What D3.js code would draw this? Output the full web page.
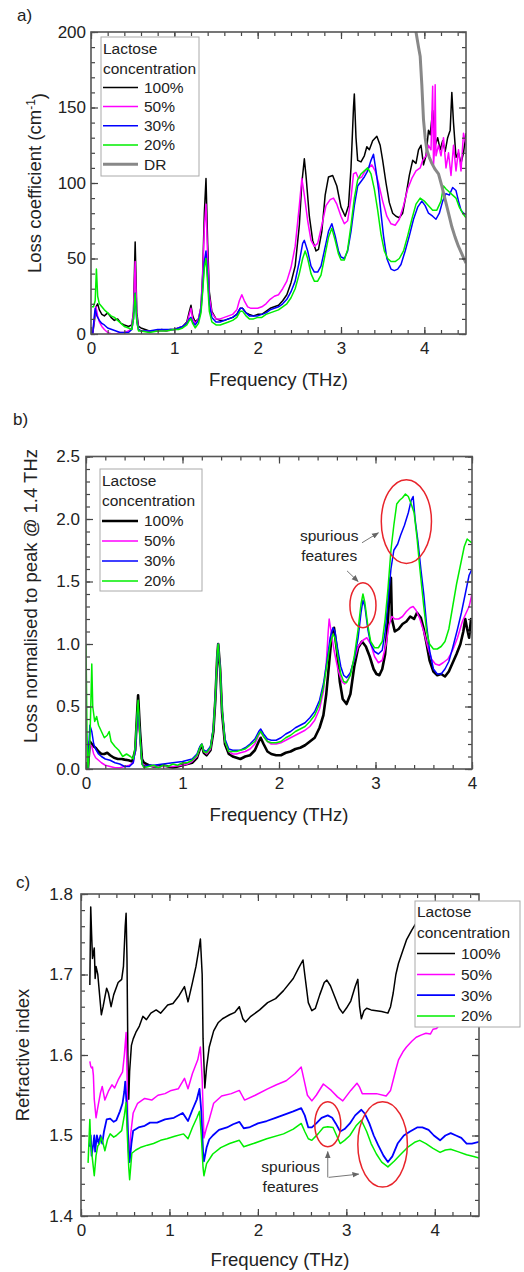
<!DOCTYPE html>
<html>
<head>
<meta charset="utf-8">
<script src="https://cdn.jsdelivr.net/npm/d3@7"></script>
<style>
body { margin: 0; background: #fff; }
svg text { font-family: Arial, "Liberation Sans", sans-serif; fill: #222; }
</style>
</head>
<body>
<div id="chart"></div>
<script>

// ---- data: [frequency THz, value] ----

const concLabels = ['100%', '50%', '30%', '20%']

// a) loss coefficient (cm-1)
const lossA100 = [[0.02,0],[0.04,8],[0.06,18],[0.08,20],[0.1,16],[0.13,13],[0.16,12],[0.2,14],[0.24,11],[0.28,9],[0.32,10],[0.36,7],[0.4,6],[0.45,5],[0.49,6],[0.51,15],[0.53,61],[0.55,14],[0.57,5],[0.6,4],[0.65,3],[0.7,2],[0.75,2],[0.8,2],[0.85,3],[0.9,2],[0.95,3],[1.0,3],[1.05,4],[1.1,5],[1.15,8],[1.18,15],[1.2,19],[1.22,12],[1.25,8],[1.29,10],[1.32,18],[1.34,40],[1.36,80],[1.38,103],[1.4,60],[1.42,28],[1.45,15],[1.5,10],[1.55,9],[1.6,9],[1.65,10],[1.7,11],[1.75,13],[1.79,17],[1.82,17],[1.86,14],[1.9,13],[1.95,12],[2.0,13],[2.05,13],[2.1,15],[2.15,17],[2.2,18],[2.25,19],[2.3,22],[2.35,26],[2.4,34],[2.45,45],[2.5,72],[2.53,100],[2.56,116],[2.58,105],[2.62,78],[2.66,62],[2.7,55],[2.73,56],[2.77,68],[2.81,92],[2.85,104],[2.9,105],[2.95,98],[3.0,84],[3.05,78],[3.09,85],[3.12,110],[3.15,150],[3.16,159],[3.18,130],[3.2,115],[3.24,114],[3.28,118],[3.31,124],[3.34,122],[3.38,128],[3.43,131],[3.47,125],[3.5,115],[3.54,100],[3.58,87],[3.62,80],[3.66,78],[3.7,77],[3.74,80],[3.78,92],[3.82,105],[3.86,115],[3.9,113],[3.93,122],[3.96,125],[3.99,112],[4.02,118],[4.05,135],[4.07,132],[4.1,148],[4.13,125],[4.16,130],[4.19,122],[4.22,128],[4.25,121],[4.28,130],[4.31,135],[4.33,160],[4.35,140],[4.38,117],[4.41,120],[4.44,113],[4.47,120],[4.5,133]]
const lossA50 = [[0.02,0],[0.04,10],[0.06,18],[0.08,12],[0.1,8],[0.13,5],[0.16,3],[0.2,1],[0.25,0],[0.3,0],[0.35,1],[0.4,1],[0.45,2],[0.49,4],[0.51,15],[0.53,48],[0.55,12],[0.57,3],[0.6,2],[0.7,2],[0.8,2],[0.9,2],[1.0,3],[1.05,4],[1.1,5],[1.15,7],[1.18,13],[1.2,17],[1.22,10],[1.25,7],[1.29,10],[1.32,18],[1.34,38],[1.36,70],[1.38,86],[1.4,50],[1.42,25],[1.45,14],[1.5,10],[1.55,10],[1.6,11],[1.65,12],[1.7,13],[1.75,16],[1.78,22],[1.81,26],[1.84,22],[1.88,18],[1.92,17],[2.0,17],[2.05,18],[2.1,20],[2.15,23],[2.2,25],[2.25,26],[2.3,30],[2.35,35],[2.4,44],[2.45,58],[2.5,85],[2.53,103],[2.56,92],[2.6,75],[2.64,62],[2.68,58],[2.72,60],[2.77,72],[2.82,85],[2.87,89],[2.91,90],[2.95,86],[3.0,78],[3.04,73],[3.08,75],[3.12,90],[3.15,106],[3.18,107],[3.21,103],[3.25,104],[3.29,108],[3.33,110],[3.37,112],[3.41,108],[3.45,100],[3.5,88],[3.55,78],[3.6,73],[3.65,72],[3.7,76],[3.75,85],[3.8,96],[3.85,103],[3.9,108],[3.95,110],[3.98,115],[4.02,118],[4.05,125],[4.08,122],[4.1,164],[4.11,112],[4.12,120],[4.13,165],[4.14,118],[4.17,125],[4.2,118],[4.23,130],[4.26,110],[4.29,120],[4.32,105],[4.35,125],[4.38,108],[4.41,122],[4.44,108],[4.47,133],[4.5,125]]
const lossA30 = [[0.02,0],[0.04,12],[0.05,17],[0.07,12],[0.1,9],[0.13,7],[0.16,6],[0.2,4],[0.25,3],[0.3,2],[0.35,1],[0.4,1],[0.45,1],[0.49,3],[0.51,10],[0.53,27],[0.55,8],[0.57,3],[0.6,2],[0.7,2],[0.8,3],[0.9,3],[1.0,3],[1.05,4],[1.1,5],[1.15,7],[1.18,10],[1.2,11],[1.22,8],[1.25,6],[1.29,9],[1.32,16],[1.34,30],[1.36,48],[1.38,55],[1.4,38],[1.42,20],[1.45,11],[1.5,8],[1.55,8],[1.6,9],[1.65,10],[1.7,11],[1.75,13],[1.79,17],[1.82,17],[1.86,14],[1.9,12],[1.95,12],[2.0,12],[2.05,13],[2.1,14],[2.15,16],[2.2,17],[2.25,18],[2.3,20],[2.35,23],[2.4,28],[2.45,35],[2.5,48],[2.54,60],[2.56,62],[2.6,55],[2.64,45],[2.68,41],[2.72,41],[2.76,45],[2.8,55],[2.85,68],[2.89,73],[2.93,65],[2.97,55],[3.0,51],[3.04,50],[3.08,55],[3.12,68],[3.16,85],[3.2,98],[3.24,101],[3.28,104],[3.32,108],[3.36,115],[3.39,119],[3.42,108],[3.45,96],[3.48,80],[3.51,65],[3.55,50],[3.6,43],[3.64,42],[3.68,43],[3.72,46],[3.77,55],[3.82,65],[3.87,76],[3.92,84],[3.97,88],[4.01,85],[4.05,80],[4.1,78],[4.14,76],[4.18,80],[4.22,88],[4.26,93],[4.3,92],[4.34,97],[4.38,95],[4.41,88],[4.44,82],[4.47,80],[4.5,79]]
const lossA20 = [[0.01,18],[0.03,18],[0.05,22],[0.065,43],[0.08,25],[0.1,20],[0.13,18],[0.16,16],[0.2,14],[0.24,12],[0.28,11],[0.32,9],[0.36,7],[0.4,5],[0.45,4],[0.49,3],[0.51,10],[0.53,27],[0.55,8],[0.57,2],[0.6,2],[0.7,1],[0.8,2],[0.9,2],[1.0,3],[1.05,3],[1.1,4],[1.15,6],[1.18,9],[1.2,10],[1.22,7],[1.25,4],[1.29,7],[1.32,14],[1.34,28],[1.36,44],[1.38,50],[1.4,33],[1.42,15],[1.45,8],[1.5,6],[1.55,6],[1.6,7],[1.65,8],[1.7,9],[1.75,11],[1.79,15],[1.82,15],[1.86,12],[1.9,10],[1.95,10],[2.0,11],[2.05,11],[2.1,13],[2.15,14],[2.2,15],[2.25,16],[2.3,18],[2.35,20],[2.4,24],[2.45,30],[2.5,40],[2.54,50],[2.57,55],[2.6,50],[2.64,40],[2.68,35],[2.72,35],[2.76,39],[2.8,50],[2.85,64],[2.89,70],[2.93,62],[2.97,53],[3.0,49],[3.04,49],[3.08,56],[3.12,72],[3.16,90],[3.2,102],[3.24,106],[3.28,108],[3.32,110],[3.36,106],[3.4,96],[3.44,82],[3.48,66],[3.52,55],[3.56,50],[3.6,48],[3.65,48],[3.7,50],[3.75,55],[3.8,65],[3.85,76],[3.9,86],[3.95,90],[4.0,88],[4.05,85],[4.1,82],[4.15,82],[4.2,88],[4.23,98],[4.26,96],[4.3,94],[4.34,92],[4.38,90],[4.42,84],[4.46,80],[4.5,77]]
const lossDR = [[3.88,210],[3.9,200],[3.93,190],[3.95,184],[3.97,165],[3.99,142],[4.01,130],[4.03,122],[4.06,117],[4.09,113],[4.13,109],[4.17,106],[4.21,98],[4.25,89],[4.29,80],[4.33,71],[4.37,64],[4.41,58],[4.45,53],[4.5,47]]

// b) loss normalised to the 1.4 THz peak
const normB100 = [[0.02,0],[0.04,0.22],[0.06,0.2],[0.08,0.18],[0.1,0.17],[0.13,0.14],[0.16,0.12],[0.19,0.12],[0.22,0.13],[0.25,0.11],[0.29,0.09],[0.33,0.08],[0.37,0.08],[0.4,0.075],[0.44,0.07],[0.48,0.06],[0.51,0.15],[0.53,0.45],[0.54,0.59],[0.56,0.3],[0.58,0.08],[0.6,0.05],[0.65,0.03],[0.7,0.02],[0.75,0.02],[0.8,0.03],[0.85,0.02],[0.9,0.01],[0.95,0.02],[1.0,0.03],[1.05,0.04],[1.1,0.05],[1.15,0.09],[1.18,0.16],[1.2,0.19],[1.22,0.13],[1.25,0.11],[1.29,0.15],[1.32,0.3],[1.34,0.55],[1.36,0.9],[1.37,1.0],[1.39,0.8],[1.41,0.45],[1.44,0.2],[1.48,0.12],[1.52,0.1],[1.56,0.09],[1.6,0.08],[1.65,0.1],[1.7,0.11],[1.75,0.15],[1.79,0.22],[1.81,0.25],[1.84,0.2],[1.88,0.14],[1.92,0.12],[1.97,0.11],[2.02,0.11],[2.07,0.13],[2.12,0.14],[2.17,0.16],[2.22,0.17],[2.27,0.19],[2.32,0.22],[2.37,0.25],[2.42,0.33],[2.46,0.43],[2.49,0.6],[2.52,0.85],[2.55,1.1],[2.57,1.13],[2.6,0.95],[2.63,0.7],[2.66,0.56],[2.7,0.52],[2.74,0.6],[2.78,0.82],[2.82,0.97],[2.86,1.02],[2.9,0.98],[2.94,0.9],[2.98,0.8],[3.01,0.76],[3.04,0.75],[3.07,0.8],[3.1,0.92],[3.13,1.2],[3.15,1.5],[3.16,1.53],[3.17,1.2],[3.2,1.1],[3.24,1.12],[3.28,1.16],[3.32,1.18],[3.36,1.22],[3.4,1.2],[3.43,1.25],[3.47,1.21],[3.5,1.12],[3.53,1.0],[3.56,0.87],[3.6,0.78],[3.64,0.75],[3.68,0.76],[3.72,0.74],[3.76,0.78],[3.8,0.85],[3.84,0.92],[3.88,1.0],[3.91,1.1],[3.93,1.2],[3.95,1.12],[3.97,1.05],[3.99,1.2],[4.0,1.18]]
const normB50 = [[0.02,0],[0.04,0.2],[0.06,0.18],[0.08,0.12],[0.1,0.09],[0.13,0.07],[0.16,0.05],[0.2,0.03],[0.25,0.02],[0.3,0.01],[0.35,0.01],[0.4,0.02],[0.45,0.03],[0.49,0.05],[0.51,0.15],[0.53,0.4],[0.54,0.5],[0.56,0.25],[0.58,0.05],[0.6,0.03],[0.7,0.02],[0.8,0.02],[0.9,0.02],[1.0,0.03],[1.05,0.04],[1.1,0.06],[1.15,0.1],[1.18,0.17],[1.2,0.2],[1.22,0.14],[1.25,0.12],[1.29,0.16],[1.32,0.32],[1.34,0.56],[1.36,0.9],[1.37,1.0],[1.39,0.8],[1.41,0.47],[1.44,0.22],[1.48,0.14],[1.52,0.12],[1.56,0.12],[1.6,0.13],[1.65,0.14],[1.7,0.16],[1.75,0.2],[1.79,0.27],[1.81,0.3],[1.84,0.26],[1.88,0.22],[1.92,0.2],[1.97,0.2],[2.02,0.21],[2.07,0.23],[2.12,0.25],[2.17,0.27],[2.22,0.29],[2.27,0.31],[2.32,0.34],[2.37,0.39],[2.42,0.48],[2.46,0.62],[2.49,0.85],[2.51,1.1],[2.52,1.2],[2.54,1.1],[2.57,0.95],[2.61,0.8],[2.65,0.7],[2.68,0.68],[2.72,0.72],[2.77,0.85],[2.82,0.98],[2.87,1.03],[2.91,1.05],[2.95,1.0],[2.99,0.9],[3.03,0.85],[3.07,0.87],[3.11,1.0],[3.14,1.15],[3.17,1.22],[3.2,1.2],[3.24,1.2],[3.28,1.22],[3.32,1.26],[3.36,1.29],[3.39,1.3],[3.42,1.27],[3.46,1.2],[3.5,1.1],[3.54,0.98],[3.58,0.88],[3.62,0.84],[3.66,0.83],[3.7,0.85],[3.75,0.88],[3.8,0.95],[3.85,1.05],[3.9,1.18],[3.94,1.25],[3.97,1.3],[4.0,1.4]]
const normB30 = [[0.02,0],[0.04,0.35],[0.06,0.3],[0.08,0.2],[0.1,0.16],[0.13,0.12],[0.16,0.1],[0.2,0.08],[0.25,0.07],[0.3,0.05],[0.35,0.04],[0.4,0.02],[0.45,0.02],[0.49,0.05],[0.51,0.15],[0.53,0.4],[0.54,0.5],[0.56,0.25],[0.58,0.04],[0.6,0.02],[0.65,0.03],[0.7,0.03],[0.8,0.04],[0.9,0.05],[1.0,0.06],[1.05,0.07],[1.1,0.08],[1.15,0.12],[1.18,0.18],[1.2,0.2],[1.22,0.15],[1.25,0.14],[1.29,0.18],[1.32,0.33],[1.34,0.57],[1.36,0.9],[1.37,1.0],[1.39,0.8],[1.41,0.48],[1.44,0.24],[1.48,0.16],[1.52,0.15],[1.56,0.15],[1.6,0.15],[1.65,0.17],[1.7,0.2],[1.75,0.24],[1.79,0.3],[1.81,0.32],[1.84,0.28],[1.88,0.24],[1.92,0.23],[1.97,0.23],[2.02,0.25],[2.07,0.28],[2.12,0.3],[2.17,0.33],[2.22,0.35],[2.27,0.37],[2.32,0.41],[2.37,0.46],[2.42,0.55],[2.46,0.68],[2.5,0.88],[2.53,1.05],[2.56,1.13],[2.58,1.1],[2.61,0.95],[2.64,0.82],[2.67,0.75],[2.7,0.73],[2.74,0.77],[2.78,0.88],[2.82,1.05],[2.85,1.25],[2.87,1.35],[2.89,1.3],[2.92,1.12],[2.95,1.0],[2.99,0.94],[3.03,0.92],[3.07,0.95],[3.1,1.1],[3.13,1.35],[3.16,1.6],[3.19,1.75],[3.23,1.8],[3.26,1.87],[3.3,1.95],[3.34,2.05],[3.37,2.15],[3.39,2.18],[3.41,2.0],[3.44,1.82],[3.47,1.6],[3.5,1.4],[3.53,1.15],[3.56,0.95],[3.6,0.8],[3.64,0.76],[3.68,0.76],[3.72,0.8],[3.76,0.86],[3.8,0.97],[3.85,1.12],[3.89,1.25],[3.93,1.4],[3.97,1.55],[4.0,1.6]]
const normB20 = [[0.0,1.0],[0.01,0.3],[0.02,0.0],[0.04,0.2],[0.06,0.84],[0.07,0.5],[0.09,0.38],[0.11,0.42],[0.13,0.35],[0.16,0.3],[0.19,0.25],[0.22,0.27],[0.24,0.3],[0.26,0.22],[0.3,0.18],[0.34,0.15],[0.38,0.1],[0.42,0.12],[0.46,0.1],[0.49,0.08],[0.51,0.18],[0.53,0.45],[0.54,0.55],[0.56,0.25],[0.58,0.04],[0.6,0.01],[0.65,0.02],[0.7,0.03],[0.75,0.01],[0.8,0.03],[0.85,0.02],[0.9,0.04],[0.95,0.03],[1.0,0.05],[1.05,0.05],[1.1,0.07],[1.15,0.11],[1.18,0.17],[1.2,0.2],[1.22,0.14],[1.25,0.13],[1.29,0.17],[1.32,0.32],[1.34,0.57],[1.36,0.92],[1.37,1.0],[1.39,0.8],[1.41,0.48],[1.44,0.22],[1.48,0.14],[1.52,0.14],[1.56,0.14],[1.6,0.15],[1.65,0.16],[1.7,0.19],[1.75,0.22],[1.79,0.28],[1.81,0.3],[1.84,0.26],[1.88,0.22],[1.92,0.21],[1.97,0.21],[2.02,0.22],[2.07,0.25],[2.12,0.27],[2.17,0.3],[2.22,0.32],[2.27,0.34],[2.32,0.38],[2.37,0.43],[2.42,0.52],[2.46,0.65],[2.5,0.85],[2.53,1.0],[2.56,1.08],[2.58,1.05],[2.61,0.9],[2.64,0.76],[2.67,0.7],[2.7,0.69],[2.74,0.75],[2.78,0.9],[2.82,1.12],[2.85,1.32],[2.87,1.4],[2.89,1.33],[2.92,1.15],[2.95,1.02],[2.99,0.97],[3.03,0.97],[3.07,1.02],[3.1,1.2],[3.13,1.45],[3.16,1.75],[3.19,1.95],[3.22,2.12],[3.25,2.15],[3.28,2.17],[3.31,2.2],[3.34,2.18],[3.37,2.12],[3.4,2.05],[3.43,1.85],[3.46,1.6],[3.5,1.3],[3.53,1.1],[3.56,1.0],[3.6,0.96],[3.64,0.96],[3.68,0.98],[3.72,1.02],[3.76,1.12],[3.8,1.3],[3.84,1.48],[3.88,1.63],[3.92,1.78],[3.95,1.84],[3.98,1.82],[4.0,1.81]]

// c) refractive index
const indexC100 = [[0.1,1.687],[0.11,1.784],[0.12,1.75],[0.13,1.72],[0.15,1.733],[0.16,1.695],[0.17,1.71],[0.19,1.70],[0.21,1.675],[0.23,1.65],[0.25,1.66],[0.27,1.672],[0.29,1.683],[0.31,1.677],[0.34,1.66],[0.37,1.675],[0.42,1.69],[0.46,1.694],[0.48,1.71],[0.5,1.76],[0.51,1.776],[0.52,1.72],[0.53,1.6],[0.54,1.545],[0.55,1.58],[0.57,1.612],[0.59,1.62],[0.62,1.628],[0.66,1.636],[0.7,1.648],[0.74,1.644],[0.79,1.652],[0.85,1.656],[0.9,1.652],[0.98,1.662],[1.04,1.664],[1.11,1.674],[1.17,1.685],[1.21,1.666],[1.26,1.69],[1.3,1.71],[1.33,1.73],[1.35,1.744],[1.37,1.7],[1.38,1.62],[1.4,1.559],[1.42,1.585],[1.45,1.61],[1.5,1.63],[1.55,1.64],[1.6,1.645],[1.68,1.65],[1.74,1.653],[1.79,1.66],[1.83,1.645],[1.86,1.641],[1.92,1.648],[2.02,1.656],[2.11,1.665],[2.2,1.67],[2.29,1.68],[2.4,1.695],[2.46,1.708],[2.51,1.718],[2.53,1.7],[2.57,1.665],[2.61,1.655],[2.65,1.658],[2.7,1.675],[2.75,1.69],[2.78,1.693],[2.82,1.686],[2.87,1.672],[2.92,1.658],[2.96,1.652],[3.0,1.658],[3.05,1.667],[3.1,1.685],[3.13,1.694],[3.15,1.66],[3.17,1.645],[3.2,1.655],[3.23,1.658],[3.28,1.656],[3.34,1.655],[3.4,1.654],[3.47,1.652],[3.5,1.66],[3.53,1.677],[3.56,1.7],[3.59,1.714],[3.64,1.73],[3.68,1.743],[3.74,1.755],[3.79,1.764],[3.85,1.772],[3.92,1.778],[4.0,1.785]]
const indexC50 = [[0.1,1.592],[0.11,1.586],[0.12,1.584],[0.13,1.585],[0.14,1.575],[0.15,1.545],[0.17,1.522],[0.19,1.535],[0.22,1.553],[0.24,1.561],[0.27,1.544],[0.31,1.555],[0.35,1.563],[0.38,1.559],[0.42,1.569],[0.47,1.579],[0.49,1.6],[0.51,1.628],[0.52,1.58],[0.53,1.5],[0.54,1.47],[0.56,1.5],[0.59,1.528],[0.64,1.54],[0.72,1.546],[0.8,1.544],[0.87,1.55],[0.95,1.552],[1.02,1.556],[1.1,1.558],[1.17,1.571],[1.21,1.558],[1.26,1.577],[1.32,1.594],[1.35,1.61],[1.37,1.57],[1.39,1.497],[1.42,1.51],[1.45,1.52],[1.5,1.54],[1.59,1.549],[1.7,1.552],[1.79,1.556],[1.82,1.55],[1.85,1.544],[1.97,1.55],[2.11,1.558],[2.21,1.563],[2.32,1.568],[2.42,1.577],[2.49,1.585],[2.52,1.57],[2.56,1.55],[2.61,1.543],[2.66,1.55],[2.74,1.564],[2.83,1.556],[2.9,1.548],[2.96,1.543],[3.05,1.556],[3.12,1.565],[3.15,1.56],[3.18,1.552],[3.25,1.552],[3.34,1.552],[3.45,1.549],[3.5,1.556],[3.53,1.569],[3.56,1.582],[3.59,1.594],[3.64,1.604],[3.68,1.61],[3.74,1.617],[3.79,1.622],[3.85,1.625],[3.9,1.627],[3.95,1.626],[3.98,1.632],[4.02,1.633],[4.05,1.637],[4.08,1.64],[4.15,1.645],[4.25,1.652]]
const indexC30 = [[0.1,1.486],[0.11,1.5],[0.12,1.475],[0.14,1.49],[0.15,1.5],[0.16,1.48],[0.18,1.5],[0.2,1.49],[0.22,1.5],[0.24,1.49],[0.26,1.505],[0.29,1.52],[0.33,1.521],[0.37,1.517],[0.4,1.519],[0.44,1.53],[0.47,1.54],[0.49,1.555],[0.5,1.567],[0.52,1.53],[0.54,1.48],[0.55,1.467],[0.57,1.49],[0.59,1.506],[0.65,1.51],[0.72,1.512],[0.78,1.516],[0.86,1.516],[0.95,1.52],[1.05,1.522],[1.15,1.528],[1.21,1.518],[1.26,1.532],[1.31,1.545],[1.34,1.558],[1.36,1.53],[1.38,1.48],[1.39,1.468],[1.42,1.485],[1.45,1.495],[1.49,1.5],[1.56,1.507],[1.65,1.51],[1.72,1.514],[1.79,1.517],[1.84,1.509],[1.9,1.51],[2.0,1.515],[2.1,1.518],[2.2,1.522],[2.3,1.526],[2.4,1.53],[2.49,1.534],[2.53,1.525],[2.57,1.51],[2.61,1.51],[2.66,1.515],[2.72,1.522],[2.79,1.525],[2.84,1.522],[2.88,1.515],[2.93,1.505],[2.98,1.508],[3.04,1.515],[3.1,1.525],[3.17,1.532],[3.21,1.527],[3.26,1.515],[3.31,1.5],[3.36,1.488],[3.42,1.475],[3.47,1.467],[3.52,1.474],[3.58,1.49],[3.65,1.5],[3.72,1.505],[3.8,1.51],[3.86,1.51],[3.93,1.507],[3.99,1.5],[4.06,1.494],[4.12,1.5],[4.18,1.503],[4.24,1.5],[4.3,1.497],[4.36,1.49],[4.42,1.49],[4.5,1.492]]
const indexC20 = [[0.08,1.466],[0.1,1.52],[0.11,1.49],[0.13,1.47],[0.15,1.45],[0.17,1.475],[0.19,1.487],[0.21,1.49],[0.23,1.498],[0.25,1.49],[0.27,1.481],[0.3,1.495],[0.33,1.502],[0.37,1.498],[0.4,1.5],[0.46,1.506],[0.49,1.525],[0.51,1.541],[0.52,1.51],[0.54,1.46],[0.55,1.445],[0.575,1.478],[0.62,1.482],[0.67,1.485],[0.75,1.488],[0.82,1.49],[0.9,1.494],[0.97,1.496],[1.06,1.499],[1.16,1.502],[1.21,1.496],[1.26,1.51],[1.31,1.522],[1.34,1.53],[1.36,1.5],[1.38,1.46],[1.39,1.45],[1.42,1.465],[1.49,1.477],[1.58,1.485],[1.68,1.49],[1.79,1.494],[1.84,1.486],[1.95,1.49],[2.1,1.496],[2.29,1.502],[2.4,1.508],[2.49,1.515],[2.53,1.505],[2.57,1.496],[2.61,1.494],[2.68,1.502],[2.74,1.51],[2.79,1.511],[2.85,1.51],[2.89,1.5],[2.93,1.49],[2.98,1.494],[3.04,1.5],[3.11,1.512],[3.17,1.519],[3.23,1.505],[3.28,1.49],[3.34,1.477],[3.4,1.467],[3.47,1.461],[3.54,1.468],[3.61,1.476],[3.7,1.486],[3.78,1.492],[3.83,1.494],[3.9,1.49],[3.98,1.484],[4.06,1.479],[4.12,1.482],[4.18,1.483],[4.26,1.48],[4.36,1.476],[4.44,1.474],[4.5,1.472]]

// tick values
const freqTicks = [0, 1, 2, 3, 4]
const lossTicks = [0, 50, 100, 150, 200]
const normTicks = [0, 0.5, 1.0, 1.5, 2.0, 2.5]
const indexTicks = [1.4, 1.5, 1.6, 1.7, 1.8]

// annotation ellipses: [centre freq, centre value, half width THz, half height]
const circlesB = [[2.87, 1.31, 0.135, 0.18], [3.32, 1.98, 0.26, 0.335]]
const circlesC = [[2.79, 1.514, 0.147, 0.028], [3.41, 1.489, 0.28, 0.053]]
// arrows: [from f, from v, to f, to v]
const arrowsB = [[2.86, 1.81, 3.03, 1.89], [2.705, 1.585, 2.82, 1.5]]
const arrowsC = [[2.79, 1.448, 2.79, 1.48], [2.8, 1.448, 3.14, 1.452]]

// ---- drawing ----

const width = 524
const height = 1272

const colors = ['#000000', '#ff00ff', '#0000ff', '#00ee00']

const svg = d3.select('#chart')
    .append('svg')
    .attr('width', width)
    .attr('height', height)

const defs = svg.append('defs')

defs.append('marker')
    .attr('id', 'arrowhead')
    .attr('viewBox', '0 0 10 10')
    .attr('refX', 9)
    .attr('refY', 5)
    .attr('markerWidth', 7)
    .attr('markerHeight', 7)
    .attr('orient', 'auto')
    .append('path')
    .attr('d', 'M0,1L10,5L0,9z')
    .attr('fill', '#666')

const drawPanel = (p) => {

    const x = d3.scaleLinear().domain(p.xDomain).range([p.left, p.right])
    const y = d3.scaleLinear().domain(p.yDomain).range([p.bottom, p.top])

    const g = svg.append('g')

    defs.append('clipPath')
        .attr('id', 'clip-' + p.name)
        .append('rect')
        .attr('x', p.left)
        .attr('y', p.top)
        .attr('width', p.right - p.left)
        .attr('height', p.bottom - p.top)

    const line = d3.line()
        .x((d) => x(d[0]))
        .y((d) => y(d[1]))

    g.append('g')
        .attr('clip-path', `url(#clip-${p.name})`)
        .selectAll('path')
        .data(p.series)
        .join('path')
        .attr('d', (s) => line(s.data))
        .attr('fill', 'none')
        .attr('stroke', (s) => s.color)
        .attr('stroke-width', (s) => s.width)
        .attr('stroke-linejoin', 'round')

    // minor tick positions
    const xMinor = d3.range(p.xDomain[0], p.xDomain[1] + 1e-9, p.xMinor)
    const yMinor = d3.range(p.yDomain[0], p.yDomain[1] + 1e-9, p.yMinor)

    const styleAxis = (sel) => {
        sel.select('.domain').remove()
        sel.selectAll('line').attr('stroke', '#444').attr('stroke-width', 1.2)
        sel.selectAll('text').style('font-size', '17px').attr('fill', '#222')
    }

    g.append('g').attr('transform', `translate(0,${p.bottom})`)
        .call(d3.axisBottom(x).tickValues(xMinor).tickSize(-4).tickFormat(''))
        .call(styleAxis)
    g.append('g').attr('transform', `translate(0,${p.top})`)
        .call(d3.axisTop(x).tickValues(xMinor).tickSize(-4).tickFormat(''))
        .call(styleAxis)
    g.append('g').attr('transform', `translate(${p.left},0)`)
        .call(d3.axisLeft(y).tickValues(yMinor).tickSize(-4).tickFormat(''))
        .call(styleAxis)
    g.append('g').attr('transform', `translate(${p.right},0)`)
        .call(d3.axisRight(y).tickValues(yMinor).tickSize(-4).tickFormat(''))
        .call(styleAxis)

    g.append('g').attr('transform', `translate(0,${p.bottom})`)
        .call(d3.axisBottom(x).tickValues(freqTicks.filter((t) => t <= p.xDomain[1])).tickSize(-7).tickPadding(8).tickFormat(d3.format('d')))
        .call(styleAxis)
    g.append('g').attr('transform', `translate(0,${p.top})`)
        .call(d3.axisTop(x).tickValues(freqTicks.filter((t) => t <= p.xDomain[1])).tickSize(-7).tickFormat(''))
        .call(styleAxis)
    g.append('g').attr('transform', `translate(${p.left},0)`)
        .call(d3.axisLeft(y).tickValues(p.yTicks).tickSize(-7).tickPadding(p.yPad).tickFormat(d3.format(p.yFormat)))
        .call(styleAxis)
    g.append('g').attr('transform', `translate(${p.right},0)`)
        .call(d3.axisRight(y).tickValues(p.yTicks).tickSize(-7).tickFormat(''))
        .call(styleAxis)

    g.append('rect')
        .attr('x', p.left)
        .attr('y', p.top)
        .attr('width', p.right - p.left)
        .attr('height', p.bottom - p.top)
        .attr('fill', 'none')
        .attr('stroke', '#555')
        .attr('stroke-width', 1.6)

    // titles
    g.append('text')
        .attr('x', (p.left + p.right) / 2)
        .attr('y', p.xTitleY)
        .attr('text-anchor', 'middle')
        .attr('dy', '0.35em')
        .style('font-size', '18.5px')
        .text('Frequency (THz)')

    const yt = g.append('text')
        .attr('transform', `translate(${p.yTitleX},${p.yTitleY}) rotate(-90)`)
        .attr('text-anchor', 'middle')
        .attr('dy', '0.35em')
        .style('font-size', '18.5px')
        .text(p.yTitle)
    if (p.yTitleSup) {
        yt.append('tspan').attr('dy', '-0.55em').style('font-size', '12px').text(p.yTitleSup)
        yt.append('tspan').attr('dy', '0.55em').text(')')
    }

    g.append('text')
        .attr('x', p.tagX)
        .attr('y', p.tagY)
        .attr('dy', '0.35em')
        .style('font-size', '17px')
        .text(p.tag)

    // annotations
    if (p.circles) {
        g.selectAll('ellipse')
            .data(p.circles)
            .join('ellipse')
            .attr('cx', (d) => x(d[0]))
            .attr('cy', (d) => y(d[1]))
            .attr('rx', (d) => x(d[0] + d[2]) - x(d[0]))
            .attr('ry', (d) => y(d[1] - d[3]) - y(d[1]))
            .attr('fill', 'none')
            .attr('stroke', '#e8242b')
            .attr('stroke-width', 1.5)

        g.selectAll('line.arrow')
            .data(p.arrows)
            .join('line')
            .attr('class', 'arrow')
            .attr('x1', (d) => x(d[0]))
            .attr('y1', (d) => y(d[1]))
            .attr('x2', (d) => x(d[2]))
            .attr('y2', (d) => y(d[3]))
            .attr('stroke', '#777')
            .attr('stroke-width', 1)
            .attr('marker-end', 'url(#arrowhead)')

        g.selectAll('text.note')
            .data(['spurious', 'features'])
            .join('text')
            .attr('class', 'note')
            .attr('x', x(p.noteAt[0]))
            .attr('y', (d, i) => y(p.noteAt[1]) + i * 20)
            .attr('text-anchor', 'middle')
            .attr('dy', '0.35em')
            .style('font-size', '15.5px')
            .text((d) => d)
    }

    // legend
    const L = p.legend
    const lg = g.append('g')
    lg.append('rect')
        .attr('x', L.x)
        .attr('y', L.y)
        .attr('width', L.w)
        .attr('height', L.h)
        .attr('fill', '#fff')
        .attr('stroke', '#aaa')
        .attr('stroke-width', 1)
    lg.selectAll('text.head')
        .data(['Lactose', 'concentration'])
        .join('text')
        .attr('class', 'head')
        .attr('x', L.x + 2)
        .attr('y', (d, i) => L.y + L.first + i * L.step)
        .attr('dy', '0.35em')
        .style('font-size', '15.5px')
        .text((d) => d)
    const items = lg.selectAll('g.item')
        .data(p.series)
        .join('g')
        .attr('class', 'item')
        .attr('transform', (d, i) => `translate(0,${L.y + L.first + (i + 2) * L.step})`)
    items.append('line')
        .attr('x1', L.x + 2)
        .attr('x2', L.x + L.lineLen)
        .attr('stroke', (d) => d.color)
        .attr('stroke-width', (d) => d.width)
    items.append('text')
        .attr('x', L.x + L.lineLen + 6)
        .attr('dy', '0.35em')
        .style('font-size', '15.5px')
        .text((d) => d.label)
}

drawPanel({
    name: 'a', tag: 'a)', tagX: 17, tagY: 15,
    left: 91, right: 466, top: 32, bottom: 334,
    xDomain: [0, 4.5], yDomain: [0, 200], xMinor: 0.2, yMinor: 10,
    yTicks: lossTicks, yFormat: 'd', yPad: 5,
    xTitleY: 380, yTitleX: 35, yTitleY: 183,
    yTitle: 'Loss coefficient (cm', yTitleSup: '-1',
    series: [
        { label: concLabels[0], data: lossA100, color: colors[0], width: 1.5 },
        { label: concLabels[1], data: lossA50, color: colors[1], width: 1.5 },
        { label: concLabels[2], data: lossA30, color: colors[2], width: 1.5 },
        { label: concLabels[3], data: lossA20, color: colors[3], width: 1.5 },
        { label: 'DR', data: lossDR, color: '#888', width: 3 }
    ],
    legend: { x: 101, y: 37, w: 98, h: 139, first: 12, step: 19.2, lineLen: 37 }
})

drawPanel({
    name: 'b', tag: 'b)', tagX: 13, tagY: 419,
    left: 86, right: 472, top: 456.5, bottom: 769,
    xDomain: [0, 4], yDomain: [0, 2.5], xMinor: 0.2, yMinor: 0.1,
    yTicks: normTicks, yFormat: '.1f', yPad: 6,
    xTitleY: 815, yTitleX: 31, yTitleY: 596,
    yTitle: 'Loss normalised to peak @ 1.4 THz',
    series: [
        { label: concLabels[0], data: normB100, color: colors[0], width: 2.6 },
        { label: concLabels[1], data: normB50, color: colors[1], width: 1.5 },
        { label: concLabels[2], data: normB30, color: colors[2], width: 1.5 },
        { label: concLabels[3], data: normB20, color: colors[3], width: 1.5 }
    ],
    circles: circlesB, arrows: arrowsB, noteAt: [2.52, 1.87],
    legend: { x: 100, y: 469, w: 102, h: 122, first: 12, step: 20, lineLen: 38 }
})

drawPanel({
    name: 'c', tag: 'c)', tagX: 16, tagY: 882,
    left: 81, right: 479, top: 894, bottom: 1216,
    xDomain: [0, 4.5], yDomain: [1.4, 1.8], xMinor: 0.2, yMinor: 0.02,
    yTicks: indexTicks, yFormat: '.1f', yPad: 8,
    xTitleY: 1260, yTitleX: 23, yTitleY: 1055,
    yTitle: 'Refractive index',
    series: [
        { label: concLabels[0], data: indexC100, color: colors[0], width: 1.5 },
        { label: concLabels[1], data: indexC50, color: colors[1], width: 1.5 },
        { label: concLabels[2], data: indexC30, color: colors[2], width: 1.8 },
        { label: concLabels[3], data: indexC20, color: colors[3], width: 1.5 }
    ],
    circles: circlesC, arrows: arrowsC, noteAt: [2.37, 1.462],
    legend: { x: 415, y: 901, w: 105, h: 126, first: 11, step: 20.8, lineLen: 40 }
})

</script>
</body>
</html>
